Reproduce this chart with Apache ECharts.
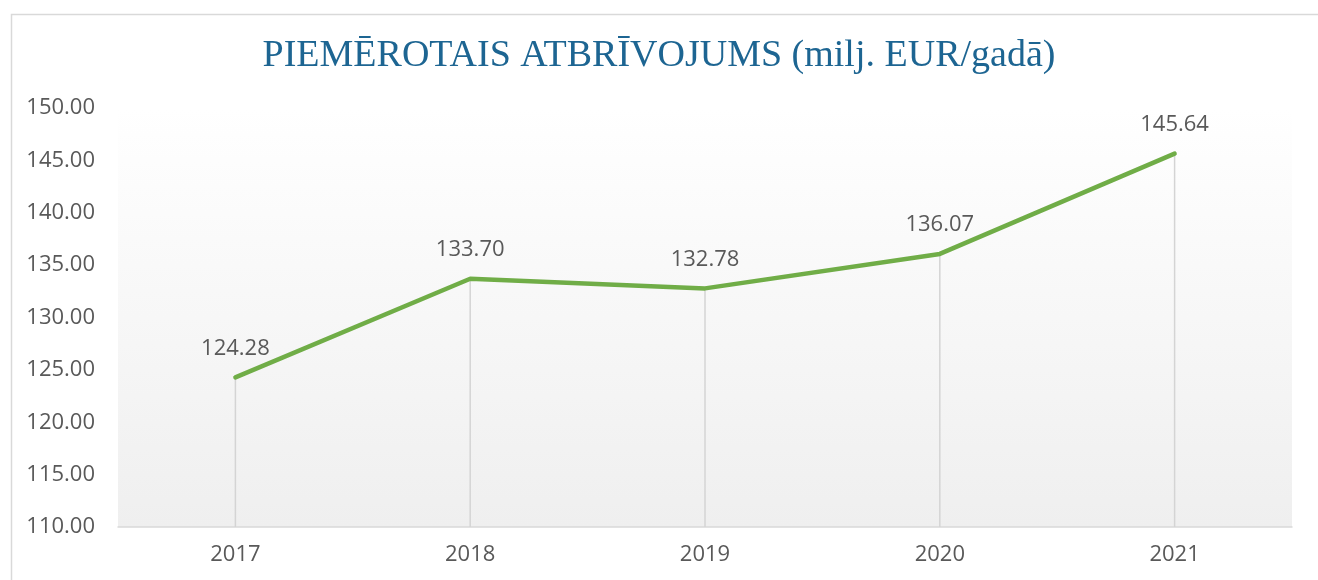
<!DOCTYPE html>
<html>
<head>
<meta charset="utf-8">
<script src="https://cdn.jsdelivr.net/npm/echarts@6/dist/echarts.min.js"></script>
<style>
  html, body { margin: 0; padding: 0; background: #fff; }
  #chart { width: 1318px; height: 580px; }
</style>
</head>
<body>
<div id="chart"></div>
<script>
// data
var years = ['2017', '2018', '2019', '2020', '2021'];
var values = [124.28, 133.70, 132.78, 136.07, 145.64];
var titleText = 'PIEMĒROTAIS ATBRĪVOJUMS (milj. EUR/gadā)';

var chart = echarts.init(document.getElementById('chart'));
var labelFont = 'Open Sans';

chart.setOption({
  animation: false,
  title: {
    text: titleText,
    left: 'center',
    top: 32,
    textStyle: {
      fontFamily: 'Liberation Serif',
      fontWeight: 'normal',
      fontSize: 38,
      color: '#1d6592'
    }
  },
  graphic: [{
    type: 'rect',
    left: 9, top: 12,
    shape: { width: 1330, height: 600 },
    style: { fill: 'none', stroke: '#d9d9d9', lineWidth: 1.5 },
    silent: true
  }],
  grid: {
    left: 118, right: 26, top: 108, bottom: 53,
    show: true,
    borderWidth: 0,
    backgroundColor: new echarts.graphic.LinearGradient(0, 0, 0, 1, [
      { offset: 0, color: '#ffffff' },
      { offset: 1, color: '#efefef' }
    ])
  },
  xAxis: {
    type: 'category',
    data: years,
    boundaryGap: true,
    axisLine: { lineStyle: { color: '#d9d9d9', width: 1.5 } },
    axisTick: { show: false },
    axisLabel: { color: '#595959', fontSize: 22, fontFamily: labelFont, margin: 17 }
  },
  yAxis: {
    type: 'value',
    min: 110, max: 150, interval: 5,
    axisLine: { show: false },
    axisTick: { show: false },
    splitLine: { show: false },
    axisLabel: {
      color: '#595959', fontSize: 22, fontFamily: labelFont, margin: 23,
      formatter: function (v) { return v.toFixed(2); }
    }
  },
  series: [{
    // drop lines, also carry the value labels
    type: 'bar',
    data: values,
    barWidth: 1.5,
    silent: true,
    itemStyle: { color: '#d4d4d4' },
    label: {
      show: true,
      position: 'top',
      distance: 18,
      color: '#595959',
      fontSize: 22,
      fontFamily: labelFont,
      formatter: function (p) { return p.value.toFixed(2); }
    },
    z: 1
  }, {
    type: 'line',
    data: values,
    symbol: 'none',
    lineStyle: { color: '#70ad47', width: 4.5, cap: 'round' },
    z: 3
  }]
});
</script>
</body>
</html>
